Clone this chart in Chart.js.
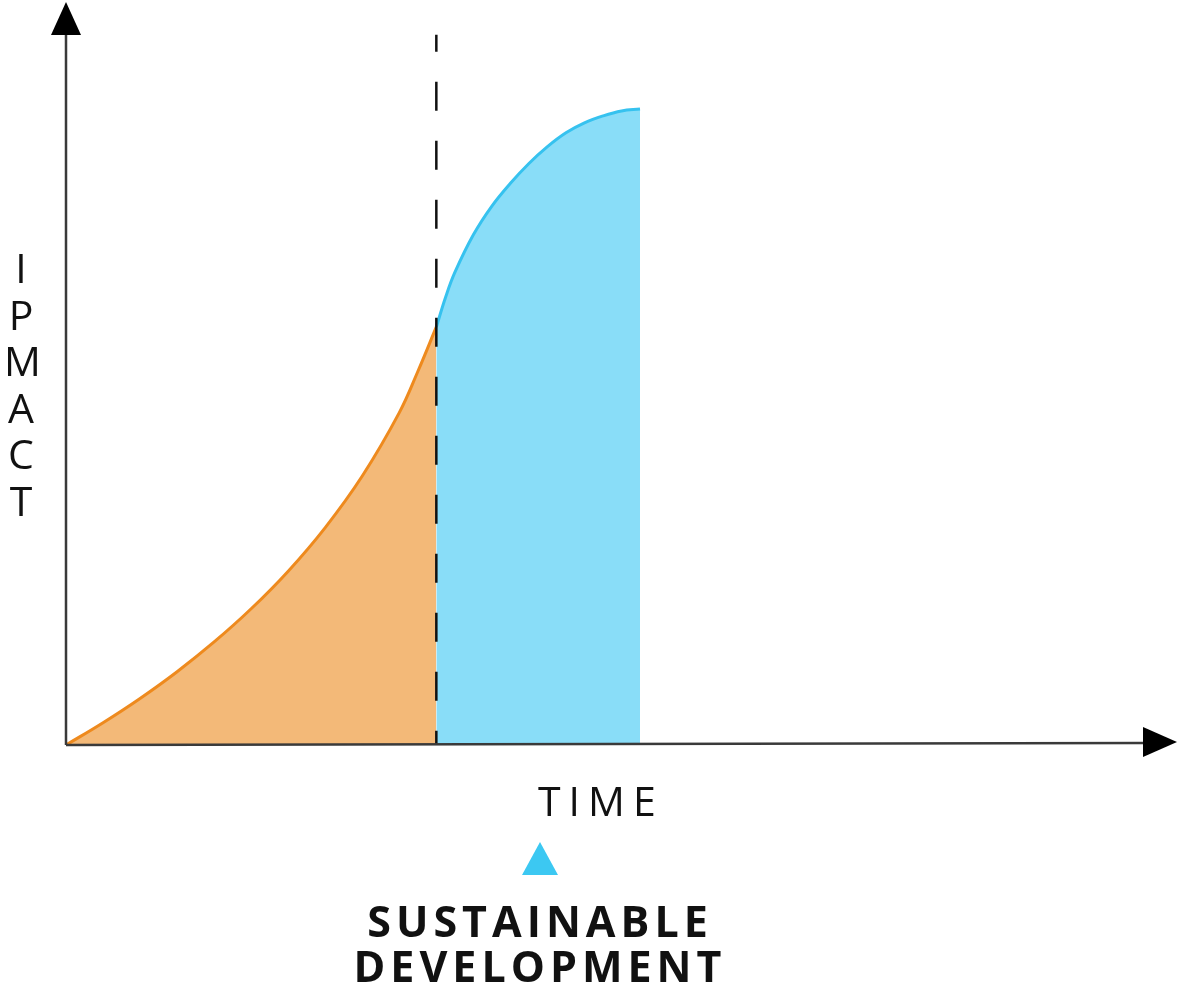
<!DOCTYPE html>
<html>
<head>
<meta charset="utf-8">
<script src="https://cdn.jsdelivr.net/npm/chart.js@4"></script>
<style>
  html, body { margin: 0; padding: 0; background: #fff; }
  #wrap { position: relative; width: 1181px; height: 990px; }
  #chart { position: absolute; left: 0; top: 0; }
  .lbl { position: absolute; font-family: "Open Sans", sans-serif; color: #111; white-space: nowrap; }
  #ylab { left: 4px; top: 244px; width: 34px; text-align: center; font-size: 41px; line-height: 46.5px; }
  #xlab { left: 538px; top: 772px; font-size: 41px; letter-spacing: 8px; }
  #tri { position: absolute; left: 522px; top: 842px; width: 0; height: 0;
         border-left: 18px solid transparent; border-right: 18px solid transparent;
         border-bottom: 33px solid #3cc8f2; }
  #sd { left: 340px; top: 898px; width: 400px; text-align: center; font-size: 43px; font-weight: 700;
        line-height: 45px; letter-spacing: 5px; }
</style>
</head>
<body>
<div id="wrap">
  <canvas id="chart" width="1181" height="990"></canvas>
  <div class="lbl" id="ylab">I<br>P<br>M<br>A<br>C<br>T</div>
  <div class="lbl" id="xlab">TIME</div>
  <div id="tri"></div>
  <div class="lbl" id="sd">SUSTAINABLE<br>DEVELOPMENT</div>
</div>
<script>
// time axis runs 0..30, impact axis 0..75
const timeBefore = [0, 1, 2, 3, 4, 5, 6, 7, 8, 9, 9.5, 10];
const impactBefore = [0, 2.25, 4.7, 7.4, 10.4, 13.75, 17.55, 21.95, 27.15, 33.55, 37.7, 42.2];

const timeAfter = [10, 10.25, 10.5, 11, 11.5, 12, 12.5, 13, 13.5, 14, 14.5, 15, 15.5];
const impactAfter = [42.2, 45.2, 47.7, 51.5, 54.4, 56.7, 58.7, 60.4, 61.8, 62.8, 63.5, 64.0, 64.2];

// dashed marker, listed top to bottom
const markerTime = [10, 10];
const markerImpact = [71.7, 0];

const toPoints = (xs, ys) => xs.map((x, i) => ({ x: x, y: ys[i] }));

// draws the two axis lines with arrow heads
const axesPlugin = {
  id: 'axes',
  afterDatasetsDraw(chart) {
    const ctx = chart.ctx;
    const x = chart.scales.x;
    const y = chart.scales.y;
    const x0 = x.getPixelForValue(0);
    const y0 = y.getPixelForValue(0);
    const xEnd = x.getPixelForValue(30);
    const yEnd = y.getPixelForValue(75);
    ctx.save();
    ctx.strokeStyle = '#3a3a3a';
    ctx.fillStyle = '#000';
    ctx.lineWidth = 2.5;
    ctx.beginPath();
    ctx.moveTo(x0, y0);
    ctx.lineTo(x0, yEnd + 30);
    ctx.moveTo(x0, y0);
    ctx.lineTo(xEnd - 30, y0 - 2);
    ctx.stroke();
    // y arrow
    ctx.beginPath();
    ctx.moveTo(x0, yEnd);
    ctx.lineTo(x0 - 15, yEnd + 33);
    ctx.lineTo(x0 + 15, yEnd + 33);
    ctx.closePath();
    ctx.fill();
    // x arrow
    ctx.beginPath();
    ctx.moveTo(xEnd, y0 - 3);
    ctx.lineTo(xEnd - 34, y0 - 18);
    ctx.lineTo(xEnd - 34, y0 + 12);
    ctx.closePath();
    ctx.fill();
    ctx.restore();
  }
};

new Chart(document.getElementById('chart').getContext('2d'), {
  type: 'line',
  data: {
    datasets: [
      {
        label: 'Sustainable development',
        data: toPoints(markerTime, markerImpact),
        borderColor: '#111',
        borderWidth: 2.5,
        borderDash: [29, 30],
        borderDashOffset: 12,
        pointRadius: 0,
        tension: 0,
        fill: false,
        order: 0
      },
      {
        label: 'Before',
        data: toPoints(timeBefore, impactBefore),
        borderColor: '#ee8a1e',
        backgroundColor: '#f3b978',
        borderWidth: 3,
        pointRadius: 0,
        tension: 0.4,
        fill: 'origin',
        order: 2
      },
      {
        label: 'After',
        data: toPoints(timeAfter, impactAfter),
        borderColor: '#36c2ef',
        backgroundColor: '#89ddf8',
        borderWidth: 3,
        pointRadius: 0,
        tension: 0.4,
        fill: 'origin',
        order: 1
      }
    ]
  },
  options: {
    responsive: false,
    animation: false,
    layout: { padding: { left: 66, top: 2, right: 4, bottom: 245 } },
    plugins: { legend: { display: false }, tooltip: { enabled: false } },
    scales: {
      x: { type: 'linear', min: 0, max: 30, display: false },
      y: { type: 'linear', min: 0, max: 75, display: false }
    }
  },
  plugins: [axesPlugin]
});
</script>
</body>
</html>
